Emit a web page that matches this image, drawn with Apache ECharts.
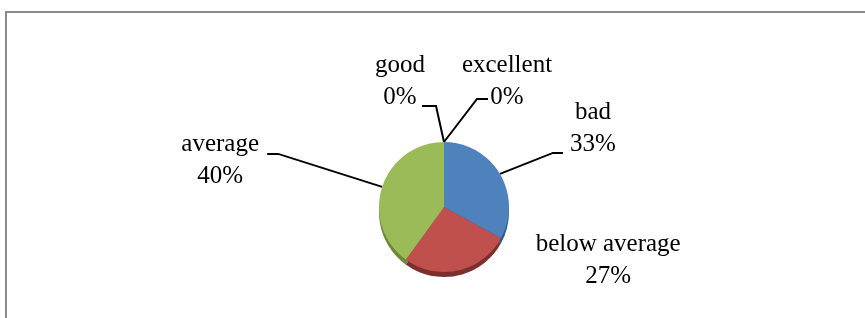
<!DOCTYPE html>
<html>
<head>
<meta charset="utf-8">
<script src="https://cdn.jsdelivr.net/npm/echarts@6/dist/echarts.min.js"></script>
<style>
  html, body { margin: 0; padding: 0; background: #fff; }
  #main { width: 865px; height: 318px; }
</style>
</head>
<body>
<div id="main"></div>
<script>
// data
var categories = ['bad', 'below average', 'average', 'good', 'excellent'];
var values = [33, 27, 40, 0, 0];
var colors = ['#4f81bd', '#c0504d', '#9bbb59', '#8064a2', '#4bacc6'];
var rimColors = ['#2f5887', '#7d2f2d', '#6b8a38', '#5a4674', '#2f7d90'];

// label offsets from the anchor point on the pie edge: [label, bend, end]
var labelOffsets = [
    [[93, -45], [53, -21], [63, -21]],
    [[150, -10], null, null],
    [[-162, -26], [-104, -33], [-115, -33]],
    [[-44, -61], [-8, -36], [-22, -36]],
    [[63, -61], [33, -43], [44, -43]]
];

var pieCenter = [444, 207];
var pieRadius = 65;

var myChart = echarts.init(document.getElementById('main'));
var option = {
    animation: false,
    graphic: [{
        type: 'rect',
        shape: { x: 6, y: 12, width: 900, height: 400 },
        style: { fill: 'none', stroke: '#8a8a8a', lineWidth: 2 },
        silent: true
    }],
    series: [
        {
            // darker rim underneath to imitate the 3D edge
            type: 'pie',
            center: [pieCenter[0], pieCenter[1] + 5],
            radius: pieRadius,
            startAngle: 90,
            silent: true,
            z: 1,
            label: { show: false },
            labelLine: { show: false },
            data: categories.map(function (c, i) {
                return { name: c, value: values[i], itemStyle: { color: rimColors[i] } };
            })
        },
        {
            type: 'pie',
            center: pieCenter,
            radius: pieRadius,
            startAngle: 90,
            avoidLabelOverlap: false,
            z: 2,
            itemStyle: { borderWidth: 0 },
            label: {
                show: true,
                formatter: '{b}\n{d}%',
                fontFamily: 'Liberation Serif',
                fontSize: 25,
                lineHeight: 32,
                color: '#000',
                align: 'center'
            },
            labelLine: {
                show: true,
                lineStyle: { color: '#000', width: 2 }
            },
            labelLayout: function (params) {
                var o = labelOffsets[params.dataIndex];
                var a = params.labelLinePoints ? params.labelLinePoints[0] : [pieCenter[0], pieCenter[1]];
                var res = {
                    x: a[0] + o[0][0],
                    y: a[1] + o[0][1],
                    align: 'center',
                    verticalAlign: 'middle'
                };
                if (o[1]) {
                    res.labelLinePoints = [
                        [a[0], a[1]],
                        [a[0] + o[1][0], a[1] + o[1][1]],
                        [a[0] + o[2][0], a[1] + o[2][1]]
                    ];
                }
                return res;
            },
            data: categories.map(function (c, i) {
                var d = { name: c, value: values[i], itemStyle: { color: colors[i] } };
                if (!labelOffsets[i][1]) d.labelLine = { show: false };
                return d;
            })
        }
    ]
};
myChart.setOption(option);
window.onresize = myChart.resize;
</script>
</body>
</html>
